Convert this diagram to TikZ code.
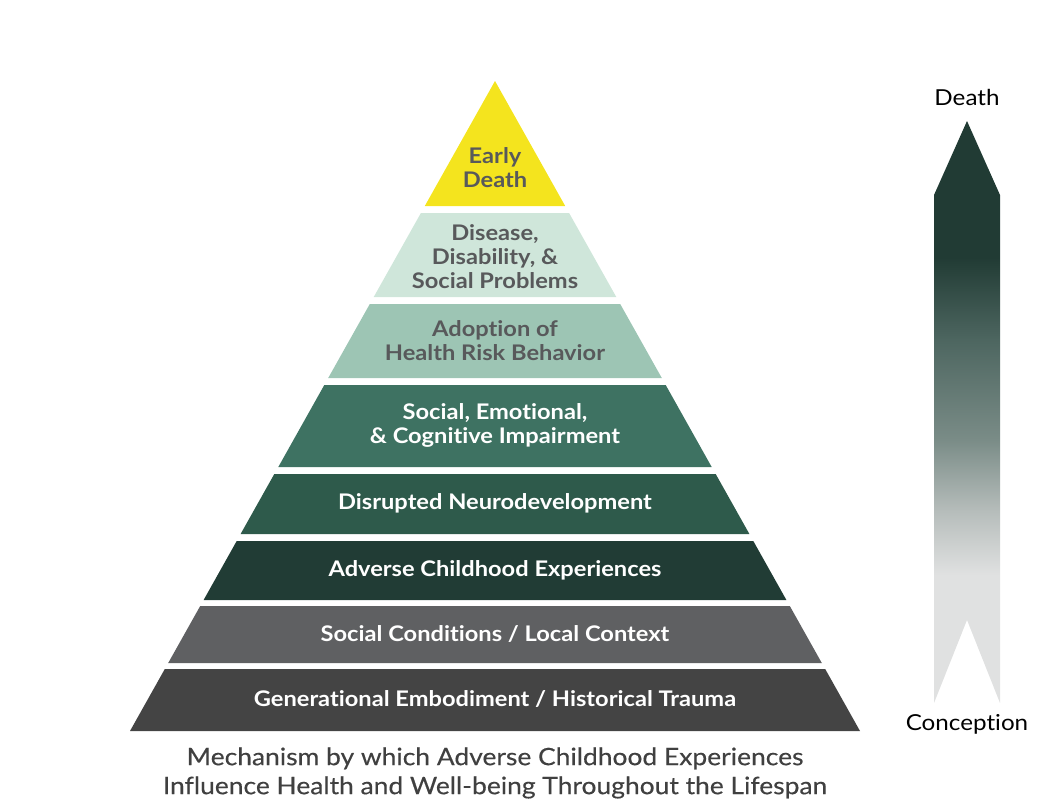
\documentclass[tikz,border=0pt]{standalone}
\usepackage{fontspec}
\setmainfont{Lato}[FakeStretch=1.1, Ligatures=NoCommon]
\newfontfamily\capfont{Lato}[FakeStretch=1.1, FakeBold=0.3, Ligatures=NoCommon]
\definecolor{cYellow}{HTML}{F4E41E}
\definecolor{cLightG}{HTML}{CFE6DA}
\definecolor{cMidG}{HTML}{9DC5B4}
\definecolor{cGreen}{HTML}{3E7262}
\definecolor{cDkGreen}{HTML}{2E5A4B}
\definecolor{cDeep}{HTML}{213C35}
\definecolor{cGray}{HTML}{5F6062}
\definecolor{cDkGray}{HTML}{444444}
\definecolor{cText}{HTML}{58595B}
\definecolor{cCap}{HTML}{404040}
\definecolor{aDark}{HTML}{213B34}
\definecolor{aC4}{HTML}{4D6660}
\definecolor{aC3}{HTML}{7A8C87}
\definecolor{aC2}{HTML}{B5BCBA}
\definecolor{aLight}{HTML}{E0E1E1}
\pgfdeclareverticalshading{lifeshade}{100bp}{color(0bp)=(aLight); color(36bp)=(aLight); color(41.6bp)=(aC2); color(47.6bp)=(aC3); color(56.2bp)=(aC4); color(63.3bp)=(aDark); color(100bp)=(aDark)}
\begin{document}
\begin{tikzpicture}[x=1pt,y=-1pt,
  tierlabel/.style={font=\bfseries\fontsize{21.5}{24}\selectfont, align=center, inner sep=0pt},
  darklabel/.style={tierlabel, text=cText},
  lightlabel/.style={tierlabel, text=white},
  sidelabel/.style={font=\fontsize{22}{26}\selectfont, text=black, inner sep=0pt},
  caption/.style={font=\capfont\fontsize{24}{29}\selectfont, text=cCap, align=center, inner sep=0pt}]
\useasboundingbox (0,0) rectangle (1062,804);
% tiers
\fill[cYellow] (495,81) -- (565.2,206) -- (424.8,206) -- cycle;
\fill[cLightG] (420.9,213) -- (569.1,213) -- (616.3,297) -- (373.7,297) -- cycle;
\fill[cMidG] (369.8,304) -- (620.2,304) -- (661.8,378) -- (328.2,378) -- cycle;
\fill[cGreen] (324.3,385) -- (665.7,385) -- (711.7,467) -- (278.3,467) -- cycle;
\fill[cDkGreen] (274.3,474) -- (715.7,474) -- (749.4,534) -- (240.6,534) -- cycle;
\fill[cDeep] (236.7,541) -- (753.3,541) -- (786.4,600) -- (203.6,600) -- cycle;
\fill[cGray] (200.2,606) -- (789.8,606) -- (821.8,663) -- (168.2,663) -- cycle;
\fill[cDkGray] (164.8,669) -- (825.2,669) -- (860,731) -- (130,731) -- cycle;
% labels
\node[darklabel] (t1) at (495,168) {Early\\Death};
\node[darklabel] (t2) at (495,257) {Disease,\\Disability, \&\\Social Problems};
\node[darklabel] (t3) at (495,341) {Adoption of\\Health Risk Behavior};
\node[lightlabel] (t4) at (495,425) {Social, Emotional,\\\& Cognitive Impairment};
\node[lightlabel] (t5) at (495,503) {Disrupted Neurodevelopment};
\node[lightlabel] (t6) at (495,570) {Adverse Childhood Experiences};
\node[lightlabel] (t7) at (495,634) {Social Conditions / Local Context};
\node[lightlabel] (t8) at (495,699) {Generational Embodiment / Historical Trauma};
% caption
\node[caption] (cap) at (495,773) {Mechanism by which Adverse Childhood Experiences\\Influence Health and Well-being Throughout the Lifespan};
% life arrow
\shade[shading=lifeshade] (934,195) -- (967,121) -- (1000,195) -- (1000,703) -- (967,620) -- (934,703) -- cycle;
\node[sidelabel] (death) at (967,97) {Death};
\node[sidelabel] (conc) at (967,724) {Conception};
\end{tikzpicture}
\end{document}
